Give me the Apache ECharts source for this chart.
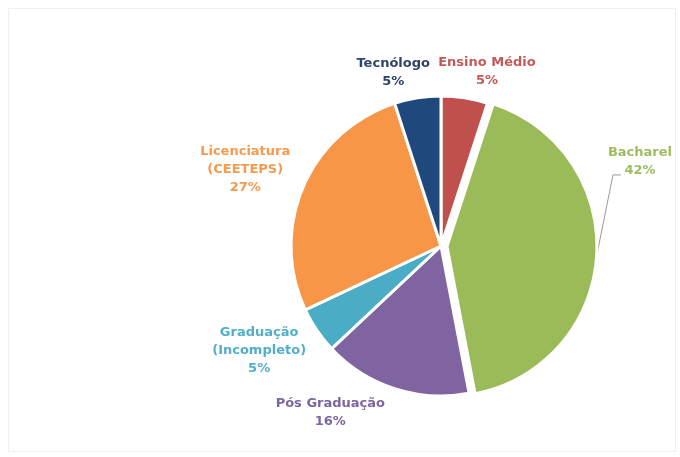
<!DOCTYPE html>
<html>
<head>
<meta charset="utf-8">
<script src="https://cdn.jsdelivr.net/npm/echarts@6/dist/echarts.min.js"></script>
<style>
html,body{margin:0;padding:0;background:#fff;}
#chart{width:680px;height:457px;}
</style>
</head>
<body>
<div id="chart"></div>
<script>
var categories = ['Ensino Médio', 'Bacharel', 'Pós Graduação', 'Graduação\n(Incompleto)', 'Licenciatura\n(CEETEPS)', 'Tecnólogo'];
var values = [5, 42, 16, 5, 27, 5];

// styling / layout (not data)
var sliceColors = ['#C0504D', '#9BBB59', '#8064A2', '#4BACC6', '#F79646', '#1F497D'];
var labelColors = ['#C45A57', '#9FBD60', '#7D65A0', '#52AFC8', '#F69A4C', '#2E4468'];
// label placement: [angle (deg, clockwise from 12 o'clock), distance from centre]
var labelPlacement = [[14.8, 180], [67.1, 216], [213.6, 200], [240, 210], [291.2, 210], [344.6, 180]];
var explodedIndex = 1;
var EXPLODE = 6;
var CX = 441, CY = 246, R = 150;

var total = values.reduce(function (s, v) { return s + v; }, 0);
function midAngle(idx) {
  var before = 0;
  for (var k = 0; k < idx; k++) before += values[k];
  return (before + values[idx] / 2) / total * 2 * Math.PI;
}

var chart = echarts.init(document.getElementById('chart'), null, {renderer: 'canvas'});

var dataA = categories.map(function (c, i) {
  var ex = i === explodedIndex;
  return {
    name: c,
    value: values[i],
    itemStyle: ex ? {color: 'rgba(0,0,0,0)', borderWidth: 0} : {color: sliceColors[i]},
    label: {color: labelColors[i]},
    labelLine: {show: ex, lineStyle: {color: '#9a9a9a', width: 1}}
  };
});
var dataB = categories.map(function (c, i) {
  var ex = i === explodedIndex;
  return {
    name: c,
    value: values[i],
    selected: ex,
    itemStyle: ex ? {color: sliceColors[i]} : {color: 'rgba(0,0,0,0)', borderWidth: 0}
  };
});

chart.setOption({
  backgroundColor: '#ffffff',
  animation: false,
  graphic: [{
    type: 'rect',
    shape: {x: 8.5, y: 8.5, width: 667, height: 443},
    style: {fill: 'none', stroke: '#efefef', lineWidth: 1},
    silent: true
  }],
  series: [{
    type: 'pie',
    center: [CX, CY],
    radius: R,
    startAngle: 90,
    clockwise: true,
    avoidLabelOverlap: false,
    selectedMode: false,
    data: dataA,
    itemStyle: {borderColor: '#ffffff', borderWidth: 3},
    emphasis: {disabled: true},
    label: {
      show: true,
      position: 'outside',
      fontFamily: 'DejaVu Sans',
      fontWeight: 'bold',
      fontSize: 13,
      lineHeight: 18,
      formatter: function (p) { return p.name + '\n' + p.value + '%'; }
    },
    labelLine: {length: 12, length2: 10},
    labelLayout: function (params) {
      var i = params.dataIndex;
      var pl = labelPlacement[i];
      var a = pl[0] * Math.PI / 180;
      var lx = CX + pl[1] * Math.sin(a);
      var ly = CY - pl[1] * Math.cos(a);
      var out = {x: lx, y: ly, align: 'center', verticalAlign: 'middle'};
      if (i === explodedIndex) {
        var m = midAngle(i);
        var sx = CX + (R + EXPLODE) * Math.sin(m);
        var sy = CY - (R + EXPLODE) * Math.cos(m);
        out.labelLinePoints = [[sx, sy], [lx - 27, ly + 13], [lx - 19, ly + 13]];
      }
      return out;
    }
  }, {
    type: 'pie',
    center: [CX, CY],
    radius: R,
    startAngle: 90,
    clockwise: true,
    selectedMode: 'single',
    selectedOffset: EXPLODE,
    data: dataB,
    itemStyle: {borderColor: '#ffffff', borderWidth: 3},
    emphasis: {disabled: true},
    label: {show: false},
    labelLine: {show: false}
  }]
});
</script>
</body>
</html>
